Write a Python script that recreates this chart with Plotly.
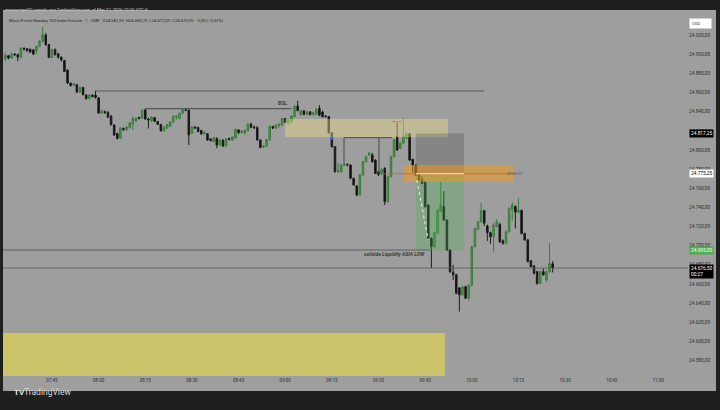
import pandas as pd
import plotly.graph_objects as go

# ---------------- data (1-minute candles, MNQ, 2026-03-12) ----------------
FIRST_CANDLE = "2026-03-12 07:30"

opens = [24895.5, 24898.75, 24896.25, 24900.5, 24899.75, 24897.25, 24906.5, 24906.0, 24905.5, 24904.75,
         24904.0, 24908.5, 24913.75, 24920.25, 24910.25, 24897.0, 24905.0, 24900.75, 24897.0, 24893.75,
         24883.75, 24870.0, 24867.5, 24868.5, 24860.75, 24865.5, 24857.5, 24853.75, 24857.5, 24857.5,
         24854.5, 24838.75, 24840.25, 24839.25, 24835.5, 24826.25, 24817.25, 24812.5, 24822.5, 24821.5,
         24823.5, 24827.25, 24830.5, 24834.0, 24833.5, 24842.0, 24832.5, 24830.75, 24834.0, 24829.75,
         24826.75, 24820.0, 24822.5, 24825.0, 24829.25, 24834.5, 24833.0, 24838.5, 24842.0, 24841.5,
         24817.5, 24824.0, 24823.5, 24820.5, 24817.0, 24817.0, 24811.5, 24809.0, 24812.0, 24805.25,
         24810.5, 24804.25, 24812.0, 24810.5, 24812.5, 24821.0, 24818.25, 24817.75, 24820.0, 24827.25,
         24824.0, 24823.5, 24810.5, 24803.0, 24804.0, 24810.5, 24824.5, 24823.0, 24825.5, 24826.0,
         24833.0, 24827.0, 24829.0, 24835.0, 24846.0, 24837.0, 24841.0, 24837.5, 24840.0, 24837.0,
         24837.5, 24843.5, 24839.75, 24835.5, 24835.0, 24818.0, 24803.5, 24777.25, 24777.25, 24784.5,
         24785.0, 24784.25, 24770.5, 24762.5, 24753.0, 24774.0, 24787.75, 24794.75, 24795.0, 24789.5,
         24777.25, 24775.0, 24781.0, 24746.0, 24772.0, 24793.0, 24814.0, 24802.0, 24807.25, 24812.5,
         24816.75, 24790.25, 24784.25, 24774.0, 24769.0, 24766.0, 24742.5, 24707.75, 24699.0, 24713.0,
         24735.5, 24741.0, 24726.75, 24695.5, 24672.0, 24669.5, 24655.75, 24648.5, 24657.0, 24645.0,
         24658.75, 24699.0, 24717.0, 24725.0, 24736.5, 24720.5, 24713.5, 24709.25, 24720.0, 24722.0,
         24705.0, 24702.5, 24714.5, 24738.0, 24741.0, 24735.0, 24737.0, 24712.75, 24706.0, 24684.25,
         24678.75, 24672.75, 24660.5, 24672.75, 24664.0, 24672.75, 24681.0]

highs = [24901.5, 24899.5, 24902.0, 24901.5, 24900.75, 24907.75, 24907.25, 24906.5, 24906.0, 24905.25,
         24909.0, 24915.0, 24928.75, 24922.5, 24911.0, 24905.75, 24906.25, 24901.5, 24898.25, 24894.25,
         24884.0, 24870.5, 24870.0, 24869.0, 24866.0, 24866.0, 24858.5, 24858.5, 24858.0, 24862.0,
         24855.5, 24842.0, 24841.25, 24840.75, 24836.5, 24826.75, 24818.0, 24824.0, 24823.5, 24825.0,
         24829.25, 24835.0, 24834.5, 24835.0, 24843.0, 24843.25, 24834.0, 24835.0, 24834.5, 24830.5,
         24827.0, 24824.5, 24827.25, 24830.25, 24836.5, 24836.5, 24839.25, 24843.25, 24842.75, 24842.5,
         24825.0, 24825.0, 24824.5, 24821.0, 24819.5, 24817.25, 24812.5, 24813.25, 24813.5, 24811.5,
         24811.0, 24812.5, 24813.0, 24814.5, 24822.5, 24821.5, 24820.5, 24821.5, 24828.0, 24828.75,
         24825.5, 24824.75, 24811.0, 24805.0, 24811.5, 24825.5, 24825.5, 24827.0, 24828.25, 24833.5,
         24833.5, 24832.5, 24836.0, 24847.0, 24851.5, 24842.0, 24841.75, 24840.5, 24840.5, 24840.0,
         24844.5, 24847.0, 24841.25, 24836.5, 24835.75, 24818.5, 24804.0, 24786.5, 24785.5, 24786.5,
         24786.0, 24785.0, 24771.0, 24763.0, 24775.0, 24788.75, 24794.5, 24798.0, 24797.0, 24790.25,
         24778.0, 24780.75, 24782.0, 24773.0, 24794.0, 24811.5, 24828.25, 24808.0, 24833.25, 24819.0,
         24818.0, 24791.0, 24785.0, 24775.0, 24772.75, 24767.75, 24743.0, 24708.5, 24714.5, 24738.0,
         24766.5, 24757.0, 24727.5, 24696.0, 24679.75, 24670.5, 24656.5, 24658.0, 24658.0, 24659.5,
         24700.0, 24719.0, 24726.0, 24744.5, 24737.5, 24722.0, 24714.5, 24724.0, 24728.0, 24724.0,
         24706.5, 24716.0, 24740.0, 24745.0, 24742.0, 24749.5, 24737.5, 24713.5, 24707.0, 24685.0,
         24679.5, 24673.5, 24674.0, 24676.0, 24674.0, 24702.5, 24683.75]

lows = [24892.75, 24894.75, 24895.25, 24898.25, 24893.0, 24895.25, 24904.0, 24902.5, 24901.5, 24899.25,
        24900.0, 24907.75, 24912.75, 24909.0, 24896.25, 24896.25, 24899.0, 24895.75, 24892.5, 24881.5,
        24869.0, 24866.5, 24867.0, 24859.5, 24859.5, 24857.0, 24852.75, 24853.25, 24855.0, 24853.75,
        24837.75, 24837.75, 24837.75, 24833.5, 24825.75, 24814.75, 24811.0, 24811.5, 24820.0, 24820.0,
        24822.0, 24821.0, 24829.25, 24832.0, 24832.5, 24831.75, 24822.5, 24829.25, 24829.5, 24826.25,
        24819.5, 24819.5, 24822.0, 24824.0, 24828.5, 24831.5, 24832.25, 24837.5, 24840.75, 24805.25,
        24817.0, 24822.0, 24818.75, 24815.75, 24815.75, 24809.5, 24808.75, 24808.0, 24802.0, 24804.25,
        24803.25, 24803.75, 24810.0, 24809.5, 24812.0, 24816.75, 24817.5, 24816.0, 24819.75, 24823.0,
        24822.0, 24810.0, 24802.0, 24802.0, 24803.5, 24810.0, 24822.0, 24822.0, 24823.5, 24825.75,
        24828.0, 24826.0, 24828.0, 24834.5, 24840.75, 24836.0, 24836.5, 24837.0, 24836.5, 24836.5,
        24837.0, 24835.5, 24834.0, 24834.0, 24817.25, 24802.5, 24776.5, 24776.0, 24776.5, 24783.0,
        24783.0, 24769.5, 24762.5, 24751.5, 24752.0, 24773.0, 24787.0, 24794.0, 24786.75, 24775.0,
        24773.0, 24774.5, 24742.5, 24745.0, 24771.5, 24792.5, 24799.0, 24801.0, 24806.5, 24811.5,
        24788.5, 24776.5, 24773.0, 24767.5, 24764.25, 24740.0, 24706.5, 24676.75, 24697.5, 24712.5,
        24735.0, 24726.0, 24694.5, 24671.5, 24664.0, 24649.0, 24631.0, 24647.5, 24644.0, 24642.5,
        24657.5, 24698.0, 24716.0, 24724.0, 24720.5, 24705.0, 24702.0, 24693.75, 24719.0, 24703.0,
        24701.0, 24701.5, 24713.5, 24726.0, 24718.0, 24733.5, 24711.5, 24705.0, 24682.5, 24677.0,
        24670.0, 24659.0, 24659.5, 24668.5, 24662.5, 24671.5, 24672.0]

closes = [24899.0, 24896.25, 24900.5, 24899.75, 24897.25, 24906.75, 24905.75, 24904.0, 24902.5, 24900.5,
          24908.5, 24913.75, 24920.5, 24910.25, 24897.0, 24905.0, 24899.75, 24897.0, 24894.25, 24882.25,
          24870.0, 24867.5, 24869.5, 24860.75, 24865.5, 24858.0, 24853.75, 24857.5, 24856.0, 24855.0,
          24838.75, 24841.0, 24839.25, 24834.25, 24826.5, 24815.75, 24812.0, 24823.0, 24821.5, 24824.0,
          24828.25, 24833.0, 24833.0, 24833.0, 24841.5, 24832.5, 24831.5, 24834.5, 24830.0, 24827.0,
          24820.0, 24824.0, 24826.75, 24829.25, 24835.0, 24835.5, 24838.5, 24842.0, 24841.5, 24815.75,
          24824.0, 24823.0, 24819.25, 24817.0, 24818.5, 24810.5, 24810.0, 24813.0, 24805.25, 24810.5,
          24804.25, 24812.0, 24811.0, 24813.5, 24821.5, 24818.25, 24820.0, 24820.5, 24827.0, 24823.75,
          24823.25, 24810.5, 24802.75, 24804.0, 24811.0, 24825.0, 24823.0, 24826.0, 24826.75, 24833.0,
          24829.0, 24832.0, 24835.5, 24846.0, 24841.25, 24841.0, 24837.25, 24840.0, 24837.0, 24839.0,
          24842.0, 24836.5, 24834.75, 24835.0, 24818.0, 24803.5, 24777.25, 24778.5, 24784.25, 24785.25,
          24784.5, 24770.5, 24763.5, 24753.0, 24774.0, 24787.75, 24793.0, 24796.75, 24787.75, 24775.5,
          24774.0, 24779.75, 24746.0, 24772.0, 24793.0, 24810.5, 24800.0, 24807.25, 24814.0, 24816.75,
          24789.5, 24784.25, 24774.0, 24768.75, 24765.25, 24740.75, 24707.75, 24699.0, 24713.5, 24737.25,
          24742.5, 24726.75, 24695.5, 24672.75, 24669.5, 24650.25, 24648.5, 24657.0, 24645.0, 24658.75,
          24699.0, 24718.0, 24725.0, 24736.5, 24723.5, 24713.5, 24709.25, 24721.5, 24725.0, 24704.0,
          24702.5, 24714.5, 24739.0, 24742.5, 24735.0, 24737.0, 24712.75, 24706.0, 24683.25, 24678.0,
          24671.0, 24660.5, 24672.75, 24669.5, 24672.75, 24681.0, 24676.5]

TIME_TICKS = ["07:45", "08:00", "08:15", "08:30", "08:45", "09:00", "09:15",
              "09:30", "09:45", "10:00", "10:15", "10:30", "10:45", "11:00"]
PRICE_TICKS = [24580, 24600, 24620, 24640, 24660, 24680, 24700, 24720, 24740,
               24760, 24780, 24800, 24820, 24840, 24860, 24880, 24900, 24920]

# drawn levels
LEVEL_UPPER = 24861.75
LEVEL_BSL = 24843.25
LEVEL_SSL = 24695.4
LAST_PRICE = 24676.5
ENTRY = 24775.25
STOP = 24817.25
TARGET = 24695.0
ZONE_KHAKI = (24813.5, 24832.5)
ZONE_ORANGE = (24766.5, 24784.3)
ZONE_YELLOW_TOP = 24608.6

DAY = "2026-03-12 "
times = pd.date_range(FIRST_CANDLE, periods=len(closes), freq="1min")


def fmt(p):
    return f"{p:,.2f}".replace(",", "X").replace(".", ",").replace("X", ".")


X_RANGE = [DAY + "07:29:15", DAY + "11:09:31"]
Y_RANGE = [24563.6, 24946.5]
BG = "#9e9e9e"
DARK = "#1f1f1f"
FONT = "Roboto"

fig = go.Figure()
fig.add_trace(go.Candlestick(
    x=times, open=opens, high=highs, low=lows, close=closes,
    increasing=dict(fillcolor="#4c984c", line=dict(color="#3a7d3a", width=1)),
    decreasing=dict(fillcolor="#0e0e0e", line=dict(color="#1c1c1c", width=1)),
    whiskerwidth=0, hoverinfo="skip", showlegend=False,
))

shapes = []


def rect(x0, x1, y0, y1, color, layer="above"):
    shapes.append(dict(type="rect", xref="x", yref="y", x0=x0, x1=x1, y0=y0, y1=y1,
                       fillcolor=color, line=dict(width=0), layer=layer))


def hline(x0, x1, y, color, width=1, dash="solid", y1=None):
    shapes.append(dict(type="line", xref="x", yref="y", x0=x0, x1=x1, y0=y,
                       y1=y if y1 is None else y1, line=dict(color=color, width=width, dash=dash),
                       layer="above"))


# bottom yellow zone
rect(DAY + "07:20", DAY + "09:51:20", 24500, ZONE_YELLOW_TOP, "#ccc46b", "below")
# khaki zone
rect(DAY + "09:00", DAY + "09:52:20", ZONE_KHAKI[0], ZONE_KHAKI[1], "rgba(240,228,140,0.42)")
# position tool (stop / target)
rect(DAY + "09:42", DAY + "09:57:30", ENTRY, STOP, "rgba(80,80,80,0.32)")
rect(DAY + "09:42", DAY + "09:57:30", TARGET, ENTRY, "rgba(76,175,80,0.30)")
# orange band
rect(DAY + "09:38", DAY + "10:13:30", ZONE_ORANGE[0], ZONE_ORANGE[1], "rgba(255,152,0,0.45)")

# lines
hline(DAY + "07:59", DAY + "10:04", LEVEL_UPPER, "#5a5a5a", 1.2)
hline(DAY + "08:15", DAY + "09:02", LEVEL_BSL, "#555555", 1.2)
hline(DAY + "07:20", DAY + "09:46:30", LEVEL_SSL, "#5e5e5e", 1.2)
hline(X_RANGE[0], X_RANGE[1], LAST_PRICE, "#5a5a5a", 0.8)
hline(DAY + "09:31", DAY + "10:13:30", ENTRY, "rgba(230,80,80,0.75)", 1)
hline(DAY + "09:42", DAY + "09:57:30", ENTRY, "#efe4e4", 1)
hline(DAY + "09:34:20", DAY + "09:37:15", 24829.6, "rgba(230,80,80,0.75)", 1)
# bracket drawing
hline(DAY + "09:18:54", DAY + "09:34:20", 24812.9, "#4a4a4a", 1)
hline(DAY + "09:18:54", DAY + "09:18:54", 24812.9, "#4a4a4a", 1, y1=24786.4)
hline(DAY + "09:30:09", DAY + "09:30:09", 24812.9, "#4a4a4a", 1, y1=24773.9)
# dotted path in position tool
hline(DAY + "09:42:20", DAY + "09:46:00", 24768.6, "#f4f4f4", 1, "dot", y1=24705.9)

# frame (dark borders of the screenshot)
for x0, x1, y0, y1 in [(-0.02, 1.08, 1.0, 1.08), (-0.02, 1.08, -0.041, -0.12),
                       (-0.02, 0.0, -0.12, 1.08), (1.0409, 1.08, -0.12, 1.08)]:
    shapes.append(dict(type="rect", xref="paper", yref="paper", x0=x0, x1=x1, y0=y0, y1=y1,
                       fillcolor=DARK, line=dict(width=0), layer="above"))

annotations = []
# texts on chart
annotations.append(dict(x=DAY + "08:59:15", y=24849.2, xref="x", yref="y", text="<b>BSL</b>",
                        showarrow=False, font=dict(size=5, color="#3c3c3c", family=FONT)))
annotations.append(dict(x=DAY + "09:45:33", y=24690.9, xref="x", yref="y",
                        text="<b><i>sellside Liquidity ASIA LOW</i></b>", xanchor="right",
                        showarrow=False, font=dict(size=5, color="#3a3a3a", family=FONT)))
annotations.append(dict(x=DAY + "10:13:50", y=ENTRY, xref="x", yref="y", text="OPEN NY",
                        showarrow=False, font=dict(size=3.8, color="#6a5a50", family=FONT)))

# price flags on axis
flags = [(STOP, "#000000", "#ffffff"), (ENTRY, "#ffffff", "#000000"), (TARGET, "#4caf50", "#ffffff")]
for price, bg, fg in flags:
    annotations.append(dict(x=1, y=price, xref="paper", yref="y", xanchor="left", xshift=1,
                            text=fmt(price), showarrow=False, bgcolor=bg, borderpad=1,
                            font=dict(size=4.8, color=fg, family=FONT)))
annotations.append(dict(x=1, y=LAST_PRICE, xref="paper", yref="y", xanchor="left", yanchor="top",
                        xshift=1, yshift=4, text=fmt(LAST_PRICE) + "<br>00:27", align="left",
                        showarrow=False, bgcolor="#000000", borderpad=1,
                        font=dict(size=4.8, color="#ffffff", family=FONT)))
# USD box
annotations.append(dict(x=1.0015, y=0.9795, xref="paper", yref="paper", xanchor="left",
                        text="USD" + "&nbsp;" * 9, align="left", showarrow=False,
                        bgcolor="#ffffff", borderpad=2, font=dict(size=4.2, color="#333333", family=FONT)))
# header texts
annotations.append(dict(x=0.0, y=1.0137, xref="paper", yref="paper", xanchor="left",
                        text="marcovirgal01 creado con TradingView.com, el Mar 12, 2026 10:26 UTC-4",
                        showarrow=False, font=dict(size=4.4, color="#cfcfcf", family=FONT)))
annotations.append(dict(x=0.0058, y=0.9836, xref="paper", yref="paper", xanchor="left",
                        text="Micro E-mini Nasdaq 100 Index Futures · 1 · CME   O24.681,00  H24.683,75  "
                             "L24.672,00  C24.676,50  −5,00 (−0,02%)",
                        showarrow=False, font=dict(size=4.2, color="#262626", family=FONT)))
# footer logo
annotations.append(dict(x=0.0131, y=-0.0615, xref="paper", yref="paper", xanchor="left",
                        text="<b>TV</b>", showarrow=False,
                        font=dict(size=8, color="#e0e0e0", family=FONT)))
annotations.append(dict(x=0.0277, y=-0.0615, xref="paper", yref="paper", xanchor="left",
                        text="TradingView", showarrow=False,
                        font=dict(size=8.5, color="#d8d8d8", family=FONT)))

# blue anchor point
fig.add_trace(go.Scatter(x=[DAY + "09:14:57"], y=[24812.3], mode="markers",
                         marker=dict(size=3, color="#2f6bff"), hoverinfo="skip", showlegend=False))

fig.update_layout(
    width=720, height=410,
    margin=dict(l=3, r=32, t=10, b=34),
    paper_bgcolor=BG, plot_bgcolor=BG,
    shapes=shapes, annotations=annotations,
    showlegend=False,
    font=dict(family=FONT),
    xaxis=dict(type="date", range=X_RANGE, rangeslider=dict(visible=False),
               tickvals=[DAY + t for t in TIME_TICKS], ticktext=TIME_TICKS,
               showgrid=False, zeroline=False, showline=False, ticks="",
               tickfont=dict(size=4.5, color="#2e2e2e", family=FONT)),
    yaxis=dict(side="right", range=Y_RANGE, tickvals=PRICE_TICKS,
               ticktext=[fmt(p) for p in PRICE_TICKS],
               showgrid=False, zeroline=False, showline=False, ticks="",
               tickfont=dict(size=4.8, color="#2e2e2e", family=FONT)),
)

fig.write_html("out.html", config=dict(displayModeBar=False),
               post_script="document.body.style.margin='0';document.body.style.overflow='hidden';"
                           "document.body.style.background='#1f1f1f';")
